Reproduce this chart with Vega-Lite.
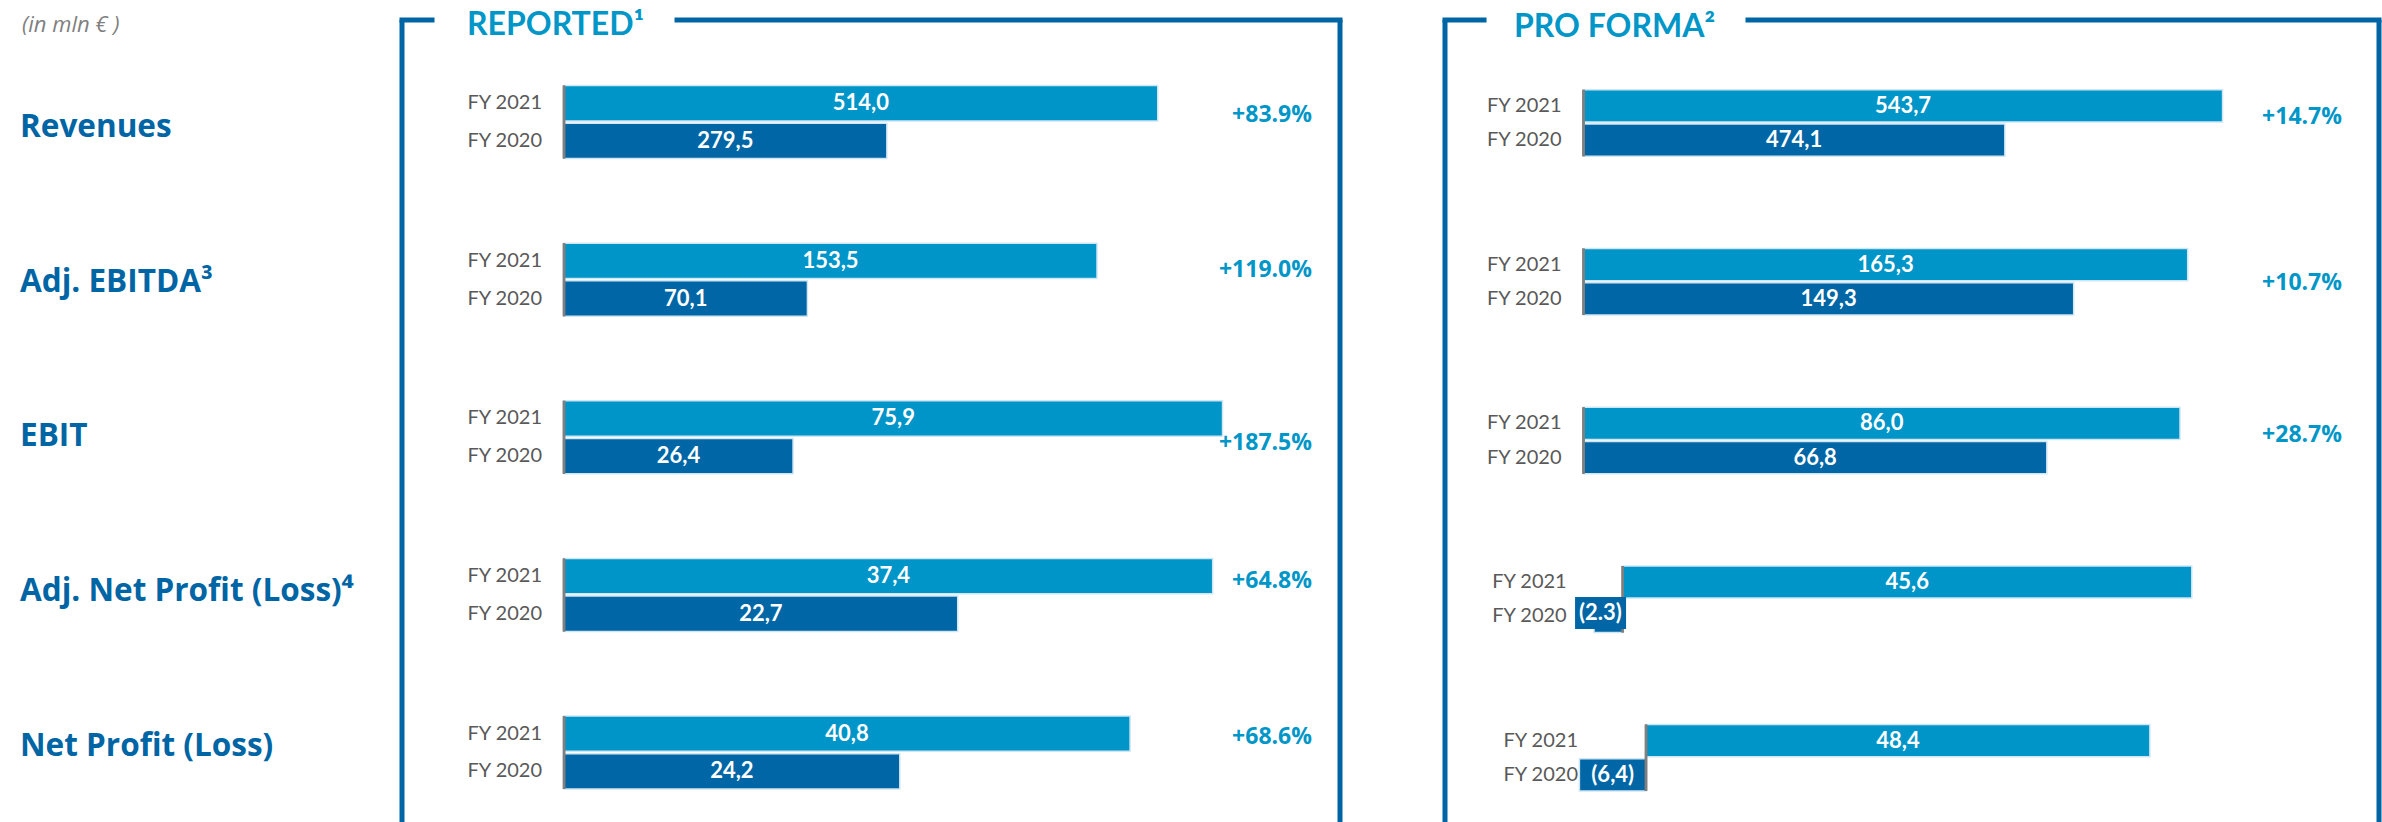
{
  "$schema": "https://vega.github.io/schema/vega-lite/v6.json",
  "padding": {"left": 0, "right": 0, "top": 9, "bottom": 0},
  "background": "white",
  "bounds": "flush",
  "spacing": 105,
  "datasets": {
    "kpi": [
      {"panel": "Reported", "metric": "Revenues", "year": "FY 2021", "value": 514.0, "label": "514,0", "change": "+83.9%"},
      {"panel": "Reported", "metric": "Revenues", "year": "FY 2020", "value": 279.5, "label": "279,5"},
      {"panel": "Reported", "metric": "Adj. EBITDA³", "year": "FY 2021", "value": 153.5, "label": "153,5", "change": "+119.0%"},
      {"panel": "Reported", "metric": "Adj. EBITDA³", "year": "FY 2020", "value": 70.1, "label": "70,1"},
      {"panel": "Reported", "metric": "EBIT", "year": "FY 2021", "value": 75.9, "label": "75,9", "change": "+187.5%"},
      {"panel": "Reported", "metric": "EBIT", "year": "FY 2020", "value": 26.4, "label": "26,4"},
      {"panel": "Reported", "metric": "Adj. Net Profit (Loss)⁴", "year": "FY 2021", "value": 37.4, "label": "37,4", "change": "+64.8%"},
      {"panel": "Reported", "metric": "Adj. Net Profit (Loss)⁴", "year": "FY 2020", "value": 22.7, "label": "22,7"},
      {"panel": "Reported", "metric": "Net Profit (Loss)", "year": "FY 2021", "value": 40.8, "label": "40,8", "change": "+68.6%"},
      {"panel": "Reported", "metric": "Net Profit (Loss)", "year": "FY 2020", "value": 24.2, "label": "24,2"},
      {"panel": "Pro forma", "metric": "Revenues", "year": "FY 2021", "value": 543.7, "label": "543,7", "change": "+14.7%"},
      {"panel": "Pro forma", "metric": "Revenues", "year": "FY 2020", "value": 474.1, "label": "474,1"},
      {"panel": "Pro forma", "metric": "Adj. EBITDA³", "year": "FY 2021", "value": 165.3, "label": "165,3", "change": "+10.7%"},
      {"panel": "Pro forma", "metric": "Adj. EBITDA³", "year": "FY 2020", "value": 149.3, "label": "149,3"},
      {"panel": "Pro forma", "metric": "EBIT", "year": "FY 2021", "value": 86.0, "label": "86,0", "change": "+28.7%"},
      {"panel": "Pro forma", "metric": "EBIT", "year": "FY 2020", "value": 66.8, "label": "66,8"},
      {"panel": "Pro forma", "metric": "Adj. Net Profit (Loss)⁴", "year": "FY 2021", "value": 45.6, "label": "45,6"},
      {"panel": "Pro forma", "metric": "Adj. Net Profit (Loss)⁴", "year": "FY 2020", "value": -2.3, "label": "(2.3)"},
      {"panel": "Pro forma", "metric": "Net Profit (Loss)", "year": "FY 2021", "value": 48.4, "label": "48,4"},
      {"panel": "Pro forma", "metric": "Net Profit (Loss)", "year": "FY 2020", "value": -6.4, "label": "(6,4)"}
    ]
  },
  "hconcat": [
    {
      "width": 297,
      "height": 802,
      "data": {"name": "kpi"},
      "layer": [
        {
          "transform": [{"filter": "datum.panel === 'Reported' && datum.year === 'FY 2021'"}],
          "mark": {"type": "text", "align": "left", "dx": 20, "font": "Open Sans", "fontSize": 31.5, "fontWeight": "bold", "color": "#0065a4"},
          "encoding": {
            "x": {"datum": 0, "type": "quantitative", "scale": {"domain": [0, 1], "nice": false, "zero": false}},
            "y": {"field": "metric", "type": "nominal", "scale": {"type": "point", "domain": ["Revenues", "Adj. EBITDA³", "EBIT", "Adj. Net Profit (Loss)⁴", "Net Profit (Loss)"], "padding": 0.5913, "align": 0.59}},
            "text": {"field": "metric"}
          }
        },
        {
          "data": {"values": [{}]},
          "mark": {"type": "text", "text": "(in mln € )", "align": "left", "baseline": "alphabetic", "dx": 22, "dy": 12, "font": "Open Sans", "fontStyle": "italic", "fontSize": 22, "color": "#7f7f7f"},
          "encoding": {
            "x": {"datum": 0, "type": "quantitative"},
            "y": {"datum": 1, "type": "quantitative", "scale": {"domain": [0, 1], "nice": false, "zero": false}}
          }
        }
      ],
      "resolve": {"scale": {"y": "independent"}}
    },
    {
      "width": 938,
      "height": 802,
      "data": {"name": "kpi"},
      "transform": [{"filter": "datum.panel === 'Reported'"}],
      "layer": [
        {
          "data": {"values": [{}]},
          "layer": [
            {"mark": {"type": "rule", "color": "#0065a4", "strokeWidth": 5}, "encoding": {"x": {"datum": 0, "type": "quantitative", "scale": {"domain": [0, 1], "nice": false, "zero": false}}}},
            {"mark": {"type": "rule", "color": "#0065a4", "strokeWidth": 5}, "encoding": {"x": {"datum": 1, "type": "quantitative"}}},
            {"mark": {"type": "rule", "color": "#0065a4", "strokeWidth": 5, "strokeCap": "square"}, "encoding": {"x": {"datum": 0, "type": "quantitative"}, "x2": {"datum": 0.032}, "y": {"datum": 1, "type": "quantitative", "scale": {"domain": [0, 1], "nice": false, "zero": false}}}},
            {"mark": {"type": "rule", "color": "#0065a4", "strokeWidth": 5, "strokeCap": "square"}, "encoding": {"x": {"datum": 0.2932, "type": "quantitative"}, "x2": {"datum": 1}, "y": {"datum": 1, "type": "quantitative"}}},
            {"mark": {"type": "text", "text": "REPORTED¹", "align": "left", "baseline": "alphabetic", "dy": 15, "font": "Lato", "fontSize": 32, "fontWeight": "bold", "color": "#0096c8"}, "encoding": {"x": {"datum": 0.0693, "type": "quantitative"}, "y": {"datum": 1, "type": "quantitative"}}}
          ]
        },
        {
          "transform": [{"filter": {"field": "metric", "equal": "Revenues"}}, {"calculate": "datum.value / 2", "as": "mid"}],
          "encoding": {"y": {"field": "metric", "type": "nominal", "scale": {"domain": ["Revenues", "Adj. EBITDA³", "EBIT", "Adj. Net Profit (Loss)⁴", "Net Profit (Loss)"], "paddingInner": 0.5368, "paddingOuter": 0.3128, "align": 0.6653}}},
          "layer": [
            {"mark": {"type": "bar", "stroke": "#cfe6f3", "strokeWidth": 1.5}, "encoding": {"x": {"field": "value", "type": "quantitative", "scale": {"domain": [-140.25, 671.8], "nice": false, "zero": false}}, "x2": {"datum": 0}, "yOffset": {"field": "year", "scale": {"domain": ["FY 2021", "FY 2020"], "paddingInner": 0.06, "paddingOuter": 0}}, "color": {"field": "year", "scale": {"domain": ["FY 2021", "FY 2020"], "range": ["#0095c8", "#0066a5"]}}}},
            {"mark": {"type": "bar", "fillOpacity": 0, "stroke": "#7f7f7f", "strokeWidth": 2.5}, "encoding": {"x": {"datum": 0}, "x2": {"datum": 0}}},
            {"mark": {"type": "text", "font": "Lato", "fontSize": 22, "fontWeight": "bold", "color": "#ffffff"}, "encoding": {"x": {"field": "mid", "type": "quantitative"}, "yOffset": {"field": "year"}, "text": {"field": "label"}}},
            {"mark": {"type": "text", "font": "Lato", "fontSize": 20, "color": "#595959", "align": "right", "dx": -22}, "encoding": {"x": {"datum": 0}, "yOffset": {"field": "year"}, "text": {"field": "year"}}},
            {"transform": [{"filter": "datum.change"}], "mark": {"type": "text", "font": "Open Sans", "fontSize": 23, "fontWeight": "bold", "color": "#0096c8", "align": "right", "dx": -28, "dy": -7}, "encoding": {"x": {"datum": 671.8}, "text": {"field": "change"}}}
          ]
        },
        {
          "transform": [{"filter": {"field": "metric", "equal": "Adj. EBITDA³"}}, {"calculate": "datum.value / 2", "as": "mid"}],
          "encoding": {"y": {"field": "metric", "type": "nominal", "scale": {"domain": ["Revenues", "Adj. EBITDA³", "EBIT", "Adj. Net Profit (Loss)⁴", "Net Profit (Loss)"], "paddingInner": 0.5368, "paddingOuter": 0.3128, "align": 0.6653}}},
          "layer": [
            {"mark": {"type": "bar", "stroke": "#cfe6f3", "strokeWidth": 1.5}, "encoding": {"x": {"field": "value", "type": "quantitative", "scale": {"domain": [-46.66, 223.48], "nice": false, "zero": false}}, "x2": {"datum": 0}, "yOffset": {"field": "year", "scale": {"domain": ["FY 2021", "FY 2020"], "paddingInner": 0.06, "paddingOuter": 0}}, "color": {"field": "year", "scale": {"domain": ["FY 2021", "FY 2020"], "range": ["#0095c8", "#0066a5"]}}}},
            {"mark": {"type": "bar", "fillOpacity": 0, "stroke": "#7f7f7f", "strokeWidth": 2.5}, "encoding": {"x": {"datum": 0}, "x2": {"datum": 0}}},
            {"mark": {"type": "text", "font": "Lato", "fontSize": 22, "fontWeight": "bold", "color": "#ffffff"}, "encoding": {"x": {"field": "mid", "type": "quantitative"}, "yOffset": {"field": "year"}, "text": {"field": "label"}}},
            {"mark": {"type": "text", "font": "Lato", "fontSize": 20, "color": "#595959", "align": "right", "dx": -22}, "encoding": {"x": {"datum": 0}, "yOffset": {"field": "year"}, "text": {"field": "year"}}},
            {"transform": [{"filter": "datum.change"}], "mark": {"type": "text", "font": "Open Sans", "fontSize": 23, "fontWeight": "bold", "color": "#0096c8", "align": "right", "dx": -28, "dy": -10}, "encoding": {"x": {"datum": 223.48}, "text": {"field": "change"}}}
          ]
        },
        {
          "transform": [{"filter": {"field": "metric", "equal": "EBIT"}}, {"calculate": "datum.value / 2", "as": "mid"}],
          "encoding": {"y": {"field": "metric", "type": "nominal", "scale": {"domain": ["Revenues", "Adj. EBITDA³", "EBIT", "Adj. Net Profit (Loss)⁴", "Net Profit (Loss)"], "paddingInner": 0.5368, "paddingOuter": 0.3128, "align": 0.6653}}},
          "layer": [
            {"mark": {"type": "bar", "stroke": "#cfe6f3", "strokeWidth": 1.5}, "encoding": {"x": {"field": "value", "type": "quantitative", "scale": {"domain": [-18.67, 89.44], "nice": false, "zero": false}}, "x2": {"datum": 0}, "yOffset": {"field": "year", "scale": {"domain": ["FY 2021", "FY 2020"], "paddingInner": 0.06, "paddingOuter": 0}}, "color": {"field": "year", "scale": {"domain": ["FY 2021", "FY 2020"], "range": ["#0095c8", "#0066a5"]}}}},
            {"mark": {"type": "bar", "fillOpacity": 0, "stroke": "#7f7f7f", "strokeWidth": 2.5}, "encoding": {"x": {"datum": 0}, "x2": {"datum": 0}}},
            {"mark": {"type": "text", "font": "Lato", "fontSize": 22, "fontWeight": "bold", "color": "#ffffff"}, "encoding": {"x": {"field": "mid", "type": "quantitative"}, "yOffset": {"field": "year"}, "text": {"field": "label"}}},
            {"mark": {"type": "text", "font": "Lato", "fontSize": 20, "color": "#595959", "align": "right", "dx": -22}, "encoding": {"x": {"datum": 0}, "yOffset": {"field": "year"}, "text": {"field": "year"}}},
            {"transform": [{"filter": "datum.change"}], "mark": {"type": "text", "font": "Open Sans", "fontSize": 23, "fontWeight": "bold", "color": "#0096c8", "align": "right", "dx": -28, "dy": 6}, "encoding": {"x": {"datum": 89.44}, "text": {"field": "change"}}}
          ]
        },
        {
          "transform": [{"filter": {"field": "metric", "equal": "Adj. Net Profit (Loss)⁴"}}, {"calculate": "datum.value / 2", "as": "mid"}],
          "encoding": {"y": {"field": "metric", "type": "nominal", "scale": {"domain": ["Revenues", "Adj. EBITDA³", "EBIT", "Adj. Net Profit (Loss)⁴", "Net Profit (Loss)"], "paddingInner": 0.5368, "paddingOuter": 0.3128, "align": 0.6653}}},
          "layer": [
            {"mark": {"type": "bar", "stroke": "#cfe6f3", "strokeWidth": 1.5}, "encoding": {"x": {"field": "value", "type": "quantitative", "scale": {"domain": [-9.34, 44.74], "nice": false, "zero": false}}, "x2": {"datum": 0}, "yOffset": {"field": "year", "scale": {"domain": ["FY 2021", "FY 2020"], "paddingInner": 0.06, "paddingOuter": 0}}, "color": {"field": "year", "scale": {"domain": ["FY 2021", "FY 2020"], "range": ["#0095c8", "#0066a5"]}}}},
            {"mark": {"type": "bar", "fillOpacity": 0, "stroke": "#7f7f7f", "strokeWidth": 2.5}, "encoding": {"x": {"datum": 0}, "x2": {"datum": 0}}},
            {"mark": {"type": "text", "font": "Lato", "fontSize": 22, "fontWeight": "bold", "color": "#ffffff"}, "encoding": {"x": {"field": "mid", "type": "quantitative"}, "yOffset": {"field": "year"}, "text": {"field": "label"}}},
            {"mark": {"type": "text", "font": "Lato", "fontSize": 20, "color": "#595959", "align": "right", "dx": -22}, "encoding": {"x": {"datum": 0}, "yOffset": {"field": "year"}, "text": {"field": "year"}}},
            {"transform": [{"filter": "datum.change"}], "mark": {"type": "text", "font": "Open Sans", "fontSize": 23, "fontWeight": "bold", "color": "#0096c8", "align": "right", "dx": -28, "dy": -14}, "encoding": {"x": {"datum": 44.74}, "text": {"field": "change"}}}
          ]
        },
        {
          "transform": [{"filter": {"field": "metric", "equal": "Net Profit (Loss)"}}, {"calculate": "datum.value / 2", "as": "mid"}],
          "encoding": {"y": {"field": "metric", "type": "nominal", "scale": {"domain": ["Revenues", "Adj. EBITDA³", "EBIT", "Adj. Net Profit (Loss)⁴", "Net Profit (Loss)"], "paddingInner": 0.5368, "paddingOuter": 0.3128, "align": 0.6653}}},
          "layer": [
            {"mark": {"type": "bar", "stroke": "#cfe6f3", "strokeWidth": 1.5}, "encoding": {"x": {"field": "value", "type": "quantitative", "scale": {"domain": [-11.68, 55.93], "nice": false, "zero": false}}, "x2": {"datum": 0}, "yOffset": {"field": "year", "scale": {"domain": ["FY 2021", "FY 2020"], "paddingInner": 0.06, "paddingOuter": 0}}, "color": {"field": "year", "scale": {"domain": ["FY 2021", "FY 2020"], "range": ["#0095c8", "#0066a5"]}}}},
            {"mark": {"type": "bar", "fillOpacity": 0, "stroke": "#7f7f7f", "strokeWidth": 2.5}, "encoding": {"x": {"datum": 0}, "x2": {"datum": 0}}},
            {"mark": {"type": "text", "font": "Lato", "fontSize": 22, "fontWeight": "bold", "color": "#ffffff"}, "encoding": {"x": {"field": "mid", "type": "quantitative"}, "yOffset": {"field": "year"}, "text": {"field": "label"}}},
            {"mark": {"type": "text", "font": "Lato", "fontSize": 20, "color": "#595959", "align": "right", "dx": -22}, "encoding": {"x": {"datum": 0}, "yOffset": {"field": "year"}, "text": {"field": "year"}}},
            {"transform": [{"filter": "datum.change"}], "mark": {"type": "text", "font": "Open Sans", "fontSize": 23, "fontWeight": "bold", "color": "#0096c8", "align": "right", "dx": -28, "dy": -15}, "encoding": {"x": {"datum": 55.93}, "text": {"field": "change"}}}
          ]
        }
      ],
      "resolve": {"scale": {"x": "independent", "y": "independent", "yOffset": "independent"}}
    },
    {
      "width": 934,
      "height": 802,
      "data": {"name": "kpi"},
      "transform": [{"filter": "datum.panel === 'Pro forma'"}],
      "layer": [
        {
          "data": {"values": [{}]},
          "layer": [
            {"mark": {"type": "rule", "color": "#0065a4", "strokeWidth": 5}, "encoding": {"x": {"datum": 0, "type": "quantitative", "scale": {"domain": [0, 1], "nice": false, "zero": false}}}},
            {"mark": {"type": "rule", "color": "#0065a4", "strokeWidth": 5}, "encoding": {"x": {"datum": 1, "type": "quantitative"}}},
            {"mark": {"type": "rule", "color": "#0065a4", "strokeWidth": 5, "strokeCap": "square"}, "encoding": {"x": {"datum": 0, "type": "quantitative"}, "x2": {"datum": 0.0418}, "y": {"datum": 1, "type": "quantitative", "scale": {"domain": [0, 1], "nice": false, "zero": false}}}},
            {"mark": {"type": "rule", "color": "#0065a4", "strokeWidth": 5, "strokeCap": "square"}, "encoding": {"x": {"datum": 0.3244, "type": "quantitative"}, "x2": {"datum": 1}, "y": {"datum": 1, "type": "quantitative"}}},
            {"mark": {"type": "text", "text": "PRO FORMA²", "align": "left", "baseline": "alphabetic", "dy": 17, "font": "Lato", "fontSize": 32, "fontWeight": "bold", "color": "#0096c8"}, "encoding": {"x": {"datum": 0.0739, "type": "quantitative"}, "y": {"datum": 1, "type": "quantitative"}}}
          ]
        },
        {
          "transform": [{"filter": {"field": "metric", "equal": "Revenues"}}, {"calculate": "(datum.value + 339.4) / 2", "as": "mid"}],
          "encoding": {"y": {"field": "metric", "type": "nominal", "scale": {"domain": ["Revenues", "Adj. EBITDA³", "EBIT", "Adj. Net Profit (Loss)⁴", "Net Profit (Loss)"], "paddingInner": 0.581, "paddingOuter": 0.3173, "align": 0.6931}}},
          "layer": [
            {"mark": {"type": "bar", "stroke": "#cfe6f3", "strokeWidth": 1.5}, "encoding": {"x": {"field": "value", "type": "quantitative", "scale": {"domain": [295.12, 593.71], "nice": false, "zero": false}}, "x2": {"datum": 339.4}, "yOffset": {"field": "year", "scale": {"domain": ["FY 2021", "FY 2020"], "paddingInner": 0.06, "paddingOuter": 0}}, "color": {"field": "year", "scale": {"domain": ["FY 2021", "FY 2020"], "range": ["#0095c8", "#0066a5"]}}}},
            {"mark": {"type": "bar", "fillOpacity": 0, "stroke": "#7f7f7f", "strokeWidth": 2.5}, "encoding": {"x": {"datum": 339.4}, "x2": {"datum": 339.4}}},
            {"mark": {"type": "text", "font": "Lato", "fontSize": 22, "fontWeight": "bold", "color": "#ffffff"}, "encoding": {"x": {"field": "mid", "type": "quantitative"}, "yOffset": {"field": "year"}, "text": {"field": "label"}}},
            {"mark": {"type": "text", "font": "Lato", "fontSize": 20, "color": "#595959", "align": "right", "dx": -22}, "encoding": {"x": {"datum": 339.4}, "yOffset": {"field": "year"}, "text": {"field": "year"}}},
            {"transform": [{"filter": "datum.change"}], "mark": {"type": "text", "font": "Open Sans", "fontSize": 23, "fontWeight": "bold", "color": "#0096c8", "align": "right", "dx": -37, "dy": -6}, "encoding": {"x": {"datum": 593.71}, "text": {"field": "change"}}}
          ]
        },
        {
          "transform": [{"filter": {"field": "metric", "equal": "Adj. EBITDA³"}}, {"calculate": "(datum.value + 80.5) / 2", "as": "mid"}],
          "encoding": {"y": {"field": "metric", "type": "nominal", "scale": {"domain": ["Revenues", "Adj. EBITDA³", "EBIT", "Adj. Net Profit (Loss)⁴", "Net Profit (Loss)"], "paddingInner": 0.581, "paddingOuter": 0.3173, "align": 0.6931}}},
          "layer": [
            {"mark": {"type": "bar", "stroke": "#cfe6f3", "strokeWidth": 1.5}, "encoding": {"x": {"field": "value", "type": "quantitative", "scale": {"domain": [61.06, 192.15], "nice": false, "zero": false}}, "x2": {"datum": 80.5}, "yOffset": {"field": "year", "scale": {"domain": ["FY 2021", "FY 2020"], "paddingInner": 0.06, "paddingOuter": 0}}, "color": {"field": "year", "scale": {"domain": ["FY 2021", "FY 2020"], "range": ["#0095c8", "#0066a5"]}}}},
            {"mark": {"type": "bar", "fillOpacity": 0, "stroke": "#7f7f7f", "strokeWidth": 2.5}, "encoding": {"x": {"datum": 80.5}, "x2": {"datum": 80.5}}},
            {"mark": {"type": "text", "font": "Lato", "fontSize": 22, "fontWeight": "bold", "color": "#ffffff"}, "encoding": {"x": {"field": "mid", "type": "quantitative"}, "yOffset": {"field": "year"}, "text": {"field": "label"}}},
            {"mark": {"type": "text", "font": "Lato", "fontSize": 20, "color": "#595959", "align": "right", "dx": -22}, "encoding": {"x": {"datum": 80.5}, "yOffset": {"field": "year"}, "text": {"field": "year"}}},
            {"transform": [{"filter": "datum.change"}], "mark": {"type": "text", "font": "Open Sans", "fontSize": 23, "fontWeight": "bold", "color": "#0096c8", "align": "right", "dx": -37, "dy": 1}, "encoding": {"x": {"datum": 192.15}, "text": {"field": "change"}}}
          ]
        },
        {
          "transform": [{"filter": {"field": "metric", "equal": "EBIT"}}, {"calculate": "datum.value / 2", "as": "mid"}],
          "encoding": {"y": {"field": "metric", "type": "nominal", "scale": {"domain": ["Revenues", "Adj. EBITDA³", "EBIT", "Adj. Net Profit (Loss)⁴", "Net Profit (Loss)"], "paddingInner": 0.581, "paddingOuter": 0.3173, "align": 0.6931}}},
          "layer": [
            {"mark": {"type": "bar", "stroke": "#cfe6f3", "strokeWidth": 1.5}, "encoding": {"x": {"field": "value", "type": "quantitative", "scale": {"domain": [-19.97, 114.69], "nice": false, "zero": false}}, "x2": {"datum": 0}, "yOffset": {"field": "year", "scale": {"domain": ["FY 2021", "FY 2020"], "paddingInner": 0.06, "paddingOuter": 0}}, "color": {"field": "year", "scale": {"domain": ["FY 2021", "FY 2020"], "range": ["#0095c8", "#0066a5"]}}}},
            {"mark": {"type": "bar", "fillOpacity": 0, "stroke": "#7f7f7f", "strokeWidth": 2.5}, "encoding": {"x": {"datum": 0}, "x2": {"datum": 0}}},
            {"mark": {"type": "text", "font": "Lato", "fontSize": 22, "fontWeight": "bold", "color": "#ffffff"}, "encoding": {"x": {"field": "mid", "type": "quantitative"}, "yOffset": {"field": "year"}, "text": {"field": "label"}}},
            {"mark": {"type": "text", "font": "Lato", "fontSize": 20, "color": "#595959", "align": "right", "dx": -22}, "encoding": {"x": {"datum": 0}, "yOffset": {"field": "year"}, "text": {"field": "year"}}},
            {"transform": [{"filter": "datum.change"}], "mark": {"type": "text", "font": "Open Sans", "fontSize": 23, "fontWeight": "bold", "color": "#0096c8", "align": "right", "dx": -37, "dy": -5}, "encoding": {"x": {"datum": 114.69}, "text": {"field": "change"}}}
          ]
        },
        {
          "transform": [{"filter": {"field": "metric", "equal": "Adj. Net Profit (Loss)⁴"}}, {"calculate": "datum.value / 2", "as": "mid"}],
          "encoding": {"y": {"field": "metric", "type": "nominal", "scale": {"domain": ["Revenues", "Adj. EBITDA³", "EBIT", "Adj. Net Profit (Loss)⁴", "Net Profit (Loss)"], "paddingInner": 0.581, "paddingOuter": 0.3173, "align": 0.6931}}},
          "layer": [
            {"mark": {"type": "bar", "stroke": "#cfe6f3", "strokeWidth": 1.5}, "encoding": {"x": {"field": "value", "type": "quantitative", "scale": {"domain": [-14.24, 60.6], "nice": false, "zero": false}}, "x2": {"datum": 0}, "yOffset": {"field": "year", "scale": {"domain": ["FY 2021", "FY 2020"], "paddingInner": 0.06, "paddingOuter": 0}}, "color": {"field": "year", "scale": {"domain": ["FY 2021", "FY 2020"], "range": ["#0095c8", "#0066a5"]}}}},
            {"mark": {"type": "bar", "fillOpacity": 0, "stroke": "#7f7f7f", "strokeWidth": 2.5}, "encoding": {"x": {"datum": 0}, "x2": {"datum": 0}}},
            {"transform": [{"filter": "datum.year === 'FY 2021'"}], "mark": {"type": "text", "font": "Lato", "fontSize": 22, "fontWeight": "bold", "color": "#ffffff"}, "encoding": {"x": {"field": "mid", "type": "quantitative"}, "yOffset": {"field": "year"}, "text": {"field": "label"}}},
            {"transform": [{"filter": "datum.year === 'FY 2020'"}], "mark": {"type": "point", "shape": "M-1.306,-0.757L0.694,-0.757L0.694,0.498L-1.306,0.498Z", "size": 2601, "filled": true, "opacity": 1, "color": "#0066a5"}, "encoding": {"x": {"field": "mid", "type": "quantitative"}, "yOffset": {"field": "year"}}},
            {"transform": [{"filter": "datum.year === 'FY 2020'"}], "mark": {"type": "text", "font": "Lato", "fontSize": 22, "fontWeight": "bold", "color": "#ffffff", "dx": -8, "dy": -3}, "encoding": {"x": {"field": "mid", "type": "quantitative"}, "yOffset": {"field": "year"}, "text": {"field": "label"}}},
            {"mark": {"type": "text", "font": "Lato", "fontSize": 20, "color": "#595959", "align": "right", "dx": -56}, "encoding": {"x": {"datum": 0}, "yOffset": {"field": "year"}, "text": {"field": "year"}}}
          ]
        },
        {
          "transform": [{"filter": {"field": "metric", "equal": "Net Profit (Loss)"}}, {"calculate": "datum.value / 2", "as": "mid"}],
          "encoding": {"y": {"field": "metric", "type": "nominal", "scale": {"domain": ["Revenues", "Adj. EBITDA³", "EBIT", "Adj. Net Profit (Loss)⁴", "Net Profit (Loss)"], "paddingInner": 0.581, "paddingOuter": 0.3173, "align": 0.6931}}},
          "layer": [
            {"mark": {"type": "bar", "stroke": "#cfe6f3", "strokeWidth": 1.5}, "encoding": {"x": {"field": "value", "type": "quantitative", "scale": {"domain": [-19.31, 70.41], "nice": false, "zero": false}}, "x2": {"datum": 0}, "yOffset": {"field": "year", "scale": {"domain": ["FY 2021", "FY 2020"], "paddingInner": 0.06, "paddingOuter": 0}}, "color": {"field": "year", "scale": {"domain": ["FY 2021", "FY 2020"], "range": ["#0095c8", "#0066a5"]}}}},
            {"mark": {"type": "bar", "fillOpacity": 0, "stroke": "#7f7f7f", "strokeWidth": 2.5}, "encoding": {"x": {"datum": 0}, "x2": {"datum": 0}}},
            {"mark": {"type": "text", "font": "Lato", "fontSize": 22, "fontWeight": "bold", "color": "#ffffff"}, "encoding": {"x": {"field": "mid", "type": "quantitative"}, "yOffset": {"field": "year"}, "text": {"field": "label"}}},
            {"mark": {"type": "text", "font": "Lato", "fontSize": 20, "color": "#595959", "align": "right", "dx": -68}, "encoding": {"x": {"datum": 0}, "yOffset": {"field": "year"}, "text": {"field": "year"}}}
          ]
        }
      ],
      "resolve": {"scale": {"x": "independent", "y": "independent", "yOffset": "independent"}}
    }
  ],
  "config": {
    "view": {"stroke": null},
    "axis": {"disable": true},
    "legend": {"disable": true},
    "text": {"font": "Lato"}
  }
}
